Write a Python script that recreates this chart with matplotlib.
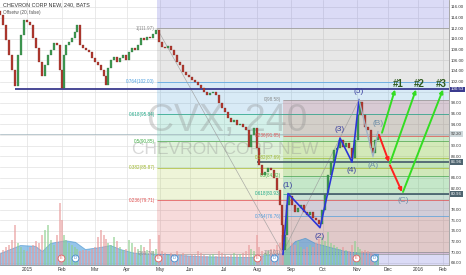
import matplotlib
matplotlib.use("Agg")
import matplotlib.pyplot as plt
import matplotlib.transforms as mtransforms

plt.rcParams['font.family'] = ['Liberation Sans', 'DejaVu Sans']

# ---------------- data ----------------
bar_x = [0, 3, 6, 9, 12, 15, 18, 21, 24, 27,
         30, 33, 36, 39, 42, 45, 48, 51, 54, 57,
         60, 62, 64, 66, 69, 72, 75, 77, 80, 83,
         86, 89, 92, 95, 98, 101, 104, 106, 108, 111,
         114, 117, 120, 123, 126, 129, 132, 135, 138, 141,
         144, 147, 150, 153, 156, 159, 162, 165, 168, 171,
         174, 177, 180, 183, 186, 189, 192, 195, 198, 201,
         204, 207, 210, 213, 216, 219, 222, 225, 228, 231,
         234, 237, 240, 243, 246, 249, 251, 254, 257, 259,
         262, 265, 268, 271, 274, 277, 280, 282, 283, 285,
         287, 289, 292, 295, 298, 301, 304, 307, 310, 313,
         316, 319, 322, 325, 328, 331, 334, 337, 340, 343,
         346, 349, 352, 355, 358, 360, 362, 365, 368, 371,
         373, 375, 378]
close = [114.5, 112.6, 109.8, 107.0, 104.2, 101.2, 107.0, 110.7, 113.6, 113.2,
         112.6, 110.2, 108.3, 105.7, 103.1, 105.1, 107.0, 107.9, 109.2, 108.9,
         104.2, 100.8, 107.0, 108.9, 109.4, 110.2, 111.3, 112.6, 108.9, 108.3,
         107.9, 107.6, 106.4, 105.7, 105.1, 104.2, 103.1, 101.4, 104.6, 106.1,
         106.6, 105.7, 106.4, 107.0, 106.1, 107.6, 108.3, 107.9, 108.9, 110.2,
         109.8, 110.4, 110.2, 110.9, 111.7, 109.4, 108.5, 108.3, 108.7, 107.9,
         107.0, 105.7, 105.1, 103.8, 103.2, 102.9, 102.3, 101.9, 101.4, 100.8,
         100.1, 99.5, 99.9, 100.1, 99.5, 98.0, 97.1, 96.3, 95.2, 94.4,
         94.8, 93.9, 94.0, 93.5, 92.9, 89.7, 92.0, 93.3, 89.5, 86.4,
         84.5, 85.0, 85.8, 85.4, 83.9, 81.7, 78.9, 75.1, 70.4, 73.2,
         78.9, 80.5, 78.9, 77.5, 78.3, 78.9, 77.5, 77.0, 77.5, 76.4,
         76.0, 75.3, 77.9, 80.7, 84.5, 86.9, 89.2, 89.5, 91.0, 89.7,
         90.5, 89.5, 87.7, 91.0, 95.7, 98.2, 95.7, 93.5, 92.9, 89.5,
         88.6, 91.0, 92.2]
open0 = 115.2
volume = [3.0, 3.8, 4.5, 5.0, 6.2, 10.0, 5.5, 4.5, 3.8, 3.5,
          4.5, 5.0, 6.0, 5.5, 7.5, 8.8, 10.0, 6.2, 5.0, 7.5,
          15.5, 11.2, 7.5, 6.2, 5.5, 5.0, 4.5, 4.0, 3.5, 3.8,
          3.8, 3.5, 4.0, 4.5, 7.0, 8.8, 7.5, 6.5, 5.5, 5.0,
          7.0, 6.0, 4.5, 3.8, 4.0, 6.2, 5.5, 4.5, 4.0, 5.0,
          4.5, 3.8, 6.5, 3.5, 4.0, 7.5, 3.5, 3.0, 2.5, 3.0,
          2.8, 3.5, 2.5, 3.0, 2.5, 2.2, 2.8, 2.5, 3.5, 3.0,
          2.5, 2.2, 2.5, 2.8, 2.2, 3.5, 3.0, 2.5, 2.2, 2.5,
          3.0, 2.5, 2.8, 3.0, 3.5, 5.0, 4.0, 3.5, 7.5, 4.5,
          3.5, 3.0, 3.5, 4.0, 4.0, 5.0, 5.5, 7.5, 8.0, 7.5,
          7.0, 6.2, 5.5, 5.0, 6.0, 4.5, 4.0, 4.5, 5.0, 4.5,
          5.5, 6.5, 7.0, 6.0, 8.2, 5.5, 5.0, 4.5, 4.0, 4.5,
          3.8, 3.5, 5.0, 6.0, 4.5, 4.0, 3.5, 3.8, 3.5, 3.0,
          2.8, 2.5, 2.2]
vol_ma_x = [0, 20, 35, 42, 50, 65, 75, 85, 100, 110, 120, 135, 160, 200,
            250, 265, 283, 295, 305, 315, 330, 345, 360, 378]
vol_ma = [3.0, 5.0, 4.8, 3.5, 5.5, 6.2, 5.8, 4.0, 4.5, 5.0, 4.0, 3.0, 2.8, 2.2,
          2.0, 2.5, 3.0, 6.0, 6.8, 5.5, 4.5, 3.5, 3.0, 2.8]

month_pos = [27, 62, 95, 127, 160, 190, 224, 257, 291, 323, 357, 388, 418, 443]
month_lab = ['2015', 'Feb', 'Mar', 'Apr', 'May', 'Jun', 'Jul', 'Aug', 'Sep',
             'Oct', 'Nov', 'Dec', '2016', 'Feb']
price_ticks = list(range(68, 117, 2))

fib_ratio = ['0', '0.236', '0.382', '0.5', '0.618', '0.764', '1']
fib1_price = [69.74, 79.71, 85.87, 90.85, 95.84, 102.00, 111.97]
fib1_start = 157
fib2_price = [98.58, 91.85, 87.69, 84.32, 80.93, 76.76, 70.01]
fib2_start = 283
fib1_line = ([157, 283], [111.97, 69.74])
fib2_line = ([283, 359], [70.01, 98.58])

wave_x = [283, 288, 320, 340, 352, 359]
wave_y = [69.6, 81.0, 74.6, 91.4, 86.9, 98.6]
wave_lab = ['(1)', '(2)', '(3)', '(4)', '(5)']
corr_x = [359, 373, 378]
corr_y = [98.6, 87.9, 92.6]
abc_lab = ['(A)', '(B)', '(C)']
abc_x = [373, 378, 403]
abc_y = [87.9, 92.6, 81.3]

red_start = [(379, 92.0), (390, 86.3)]
red_end = [(389, 86.9), (402, 81.3)]
green_start = [(382, 92.4), (390, 86.7), (403, 81.3)]
green_end = [(395, 100.5), (416, 100.5), (443, 100.5)]
target_lab = ['#1', '#2', '#3']
target_x = [398, 419, 441]
target_y = 101.5

hlines = [(100.53, 15, '#3b3b8f', '100.53'),
          (86.96, 257, '#4e6470', '86.96'),
          (80.96, 288, '#4e6470', '80.96')]
last_price = 92.20

events_x = [61, 75, 158, 174, 257, 274, 356, 374]
events_lab = ['E', 'D', 'E', 'D', 'E', 'D', 'E', 'D']
events_y = 68.9

XMAX = 449
YLIM = (67.6, 117.3)

# ---------------- figure ----------------
fig = plt.figure(figsize=(4.66, 2.75), dpi=100)
rect = [0, 10 / 275, 449 / 466, 265 / 275]

# background axes: grid, fib zones, watermark
axb = fig.add_axes(rect)
axb.set_xlim(0, XMAX)
axb.set_ylim(*YLIM)
axb.set_xticks(month_pos)
axb.set_yticks(price_ticks)
axb.tick_params(length=0, labelbottom=False, labelleft=False)
axb.grid(color='#e2e2e2', lw=0.5)
axb.set_axisbelow(True)
for s in axb.spines.values():
    s.set_visible(False)

zone_cols = ['#d84444', '#a8c832', '#50b83a', '#18b08c', '#3494d0', '#808080', '#4444d0']
lvl_cols = ['#909090', '#e04848', '#a2b82a', '#43a047', '#16a085', '#4a9ee0', '#909090']
lab_cols = ['#8a8a8a', '#e05050', '#9cb52a', '#3fae45', '#20a888', '#4a9ee0', '#8a8a8a']

# fib 1 (low -> high)
for i in range(len(fib1_price) - 1):
    axb.fill_between([fib1_start, XMAX], fib1_price[i], fib1_price[i + 1],
                     color=zone_cols[i], alpha=0.19, lw=0, zorder=1)
axb.fill_between([fib1_start, XMAX], fib1_price[-1], YLIM[1],
                 color=zone_cols[-1], alpha=0.19, lw=0, zorder=1)
for p, c in zip(fib1_price, lvl_cols):
    axb.hlines(p, fib1_start, XMAX, color=c, lw=0.6, alpha=0.8, zorder=2)

# fib 2 (high -> low)
for i in range(len(fib2_price) - 1):
    axb.fill_between([fib2_start, XMAX], fib2_price[i + 1], fib2_price[i],
                     color=zone_cols[i], alpha=0.19, lw=0, zorder=1)
axb.fill_between([fib2_start, XMAX], YLIM[0], fib2_price[-1],
                 color=zone_cols[-1], alpha=0.19, lw=0, zorder=1)
for p, c in zip(fib2_price, lvl_cols):
    axb.hlines(p, fib2_start, XMAX, color=c, lw=0.6, alpha=0.8, zorder=2)

# watermark
axb.text(227, 94.6, 'CVX, 240', fontsize=27, color='#8a8a8a', alpha=0.33,
         ha='center', va='center', zorder=3)
axb.text(225, 89.2, 'CHEVRON CORP NEW', fontsize=12.5, color='#8a8a8a', alpha=0.33,
         ha='center', va='center', zorder=3)

# volume axes
axv = fig.add_axes(rect)
axv.set_xlim(0, XMAX)
axv.set_ylim(0, 66.25)
axv.axis('off')
axv.patch.set_alpha(0)
opens = [open0] + close[:-1]
up = [c >= o for o, c in zip(opens, close)]
axv.fill_between(vol_ma_x, 0, vol_ma, color='#4f9fdc', alpha=0.6, lw=0.6,
                 edgecolor='#3d8ccc')
axv.bar(bar_x, volume, width=1.6,
        color=['#8fd08f' if u else '#e89a9a' for u in up], alpha=0.6, lw=0)

# price axes
ax = fig.add_axes(rect)
ax.patch.set_alpha(0)
ax.set_xlim(0, XMAX)
ax.set_ylim(*YLIM)
ax.yaxis.tick_right()
ax.set_yticks(price_ticks)
marked = [h[0] for h in hlines] + [last_price]
ax.set_yticklabels(['' if any(abs(v - m) <= 1.0 for m in marked) else f'{v:.2f}'
                    for v in price_ticks])
ax.set_xticks(month_pos)
ax.set_xticklabels(month_lab)
ax.tick_params(axis='y', length=0, pad=1.5, labelsize=3.2, colors='#333333')
ax.tick_params(axis='x', length=0, pad=1.5, labelsize=3.5, colors='#333333')
for k in ['top', 'left']:
    ax.spines[k].set_visible(False)
for k in ['right', 'bottom']:
    ax.spines[k].set_color('#9a9a9a')
    ax.spines[k].set_linewidth(0.6)

# last price line
ax.axhline(last_price, color='#9fb4bc', lw=0.5, zorder=2)

# fib labels
for r, p, c in zip(fib_ratio, fib1_price, lab_cols):
    ax.text(fib1_start - 2, p, f'{r}({p:.2f})', fontsize=3.3, color=c,
            ha='right', va='center', zorder=6)
for r, p, c in zip(fib_ratio, fib2_price, lab_cols):
    ax.text(fib2_start - 2, p, f'{r}({p:.2f})', fontsize=3.3, color=c,
            ha='right', va='center', zorder=6)

# fib diagonals
ax.plot(*fib1_line, color='#9a9a9a', lw=0.5, alpha=0.8, zorder=3)
ax.plot(*fib2_line, color='#9a9a9a', lw=0.5, alpha=0.8, zorder=3)

# horizontal lines
for p, x0, c, lab in hlines:
    ax.hlines(p, x0, XMAX, color=c, lw=1.3, zorder=4)

# candles
ax.bar(bar_x, [c - o for o, c in zip(opens, close)], bottom=opens, width=1.5,
       color=['#3f9a52' if u else '#b33a30' for u in up], lw=0.2,
       edgecolor=['#2c6e3a' if u else '#7a2420' for u in up], zorder=5)

# elliott waves
ax.plot(wave_x, wave_y, color='#2b35d8', lw=1.2, zorder=6)
ax.plot(corr_x, corr_y, color='#a2b4c6', lw=1.0, zorder=6)
offs = [6, -6, 6, -6, 6]
for lab, x, y, o in zip(wave_lab, wave_x[1:], wave_y[1:], offs):
    ax.annotate(lab, (x, y), xytext=(0, o), textcoords='offset points',
                fontsize=6, color='#3a3f9f', ha='center', va='center', zorder=8)
abc_offs = [-6, 6, -6]
for lab, x, y, o in zip(abc_lab, abc_x, abc_y, abc_offs):
    ax.annotate(lab, (x, y), xytext=(0, o), textcoords='offset points',
                fontsize=6, color='#6f8fa8', ha='center', va='center', zorder=8)

# projection arrows
for s, e in zip(red_start, red_end):
    ax.annotate('', xy=e, xytext=s,
                arrowprops=dict(arrowstyle='-|>', color='#ff2020', lw=1.4,
                                mutation_scale=5, shrinkA=0, shrinkB=0), zorder=7)
for s, e in zip(green_start, green_end):
    ax.annotate('', xy=e, xytext=s,
                arrowprops=dict(arrowstyle='-|>', color='#33dd22', lw=1.4,
                                mutation_scale=5, shrinkA=0, shrinkB=0), zorder=7)
for lab, x in zip(target_lab, target_x):
    ax.text(x, target_y, lab, fontsize=7, fontweight='bold', color='#2f5a1e',
            ha='center', va='center', zorder=8)

# earnings / dividends
for x, lab in zip(events_x, events_lab):
    c = '#e05a5a' if lab == 'E' else '#3d86cc'
    ax.scatter([x], [events_y], s=24, facecolor='white', edgecolor=c, lw=0.6, zorder=9)
    ax.text(x, events_y, lab, fontsize=3, color=c, ha='center', va='center', zorder=10)

# right-axis highlighted labels
tr = mtransforms.blended_transform_factory(ax.transAxes, ax.transData)
for p, x0, c, lab in hlines:
    ax.text(1.004, p, lab, transform=tr, fontsize=3.2, color='white', ha='left',
            va='center', zorder=10, clip_on=False,
            bbox=dict(boxstyle='square,pad=0.2', fc=c, ec='none'))
ax.text(1.004, last_price, f'{last_price:.2f}', transform=tr, fontsize=3.2,
        color='#333333', ha='left', va='center', zorder=10, clip_on=False,
        bbox=dict(boxstyle='square,pad=0.2', fc='#cfd8db', ec='none'))

# header
ax.text(0.006, 0.992, 'CHEVRON CORP NEW, 240, BATS', transform=ax.transAxes,
        fontsize=3.9, color='#333333', ha='left', va='top', zorder=10)
ax.text(0.006, 0.962, 'Offsetw (20, false)', transform=ax.transAxes,
        fontsize=3.3, color='#555555', ha='left', va='top', zorder=10)

fig.savefig('out.png', dpi=100)
